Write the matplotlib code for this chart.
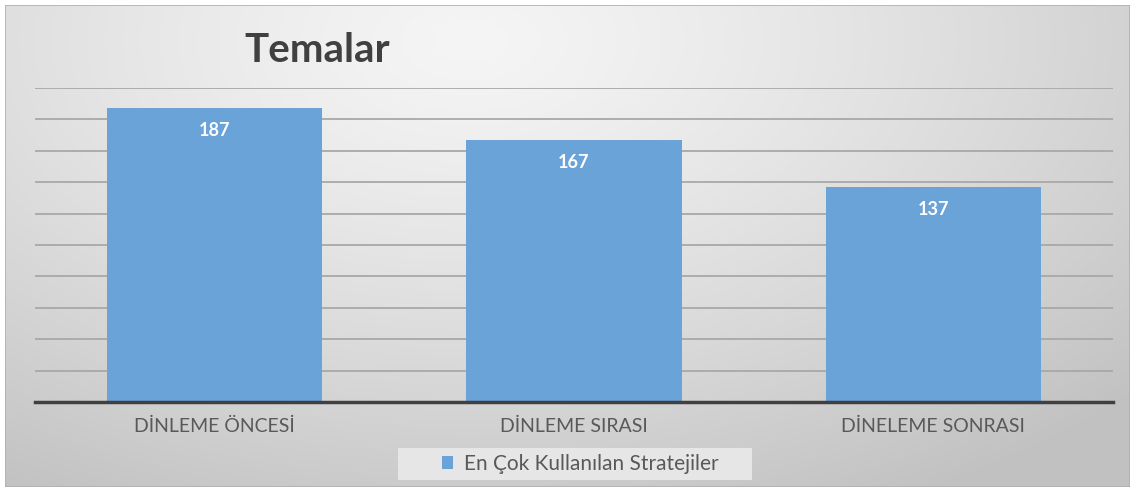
#!/usr/bin/env python3
"""Temalar - bar chart of the most used strategies per listening phase."""

import matplotlib
matplotlib.use("Agg")
import matplotlib.pyplot as plt
import numpy as np
from matplotlib.patches import Rectangle

# ---------------------------------------------------------------------------
# Data
# ---------------------------------------------------------------------------

categories = ["DİNLEME ÖNCESİ", "DİNLEME SIRASI", "DİNELEME SONRASI"]
values = [187, 167, 137]
series_name = "En Çok Kullanılan Stratejiler"
title = "Temalar"

BAR_COLOR = "#6aa3d8"
TEXT_COLOR = "#595959"

plt.rcParams["font.family"] = ["Lato", "DejaVu Sans"]

fig = plt.figure(figsize=(11.35, 4.91), dpi=100)
fig.patch.set_facecolor("white")

# background panel with a soft radial gradient
bg = fig.add_axes([0, 0, 1, 1], zorder=0)
W, H = 1135, 491
yy, xx = np.mgrid[0:H, 0:W]
d = np.sqrt(((xx - 470) / 900.0) ** 2 + ((yy - 40) / 520.0) ** 2)
shade = 0.96 - 0.20 * np.clip(d, 0, 1) ** 1.3
img = np.dstack([shade, shade, shade])
bg.imshow(img, extent=(0, W, H, 0), aspect="auto", interpolation="bilinear")
bg.add_patch(Rectangle((5, 5), 1125, 482, fill=False, edgecolor="#b0b0b0", lw=1.2))
# white outside the panel
bg.add_patch(Rectangle((0, 0), W, 5, color="white", lw=0))
bg.add_patch(Rectangle((0, 0), 5, H, color="white", lw=0))
bg.add_patch(Rectangle((1130, 0), 5, H, color="white", lw=0))
bg.add_patch(Rectangle((0, 487), W, 4, color="white", lw=0))
# legend box (wider than matplotlib's own frame)
bg.add_patch(Rectangle((398, 448), 354, 32, color="#e6e6e6", lw=0))
bg.set_xlim(0, W)
bg.set_ylim(H, 0)
bg.axis("off")

# main axes
ax = fig.add_axes([35 / W, 1 - 402 / H, (1113 - 35) / W, (402 - 88) / H], zorder=1)
ax.patch.set_alpha(0)

x = np.arange(len(categories))
bars = ax.bar(x, values, width=0.6, color=BAR_COLOR, zorder=3, label=series_name)

ax.set_xlim(-0.5, len(categories) - 0.5)
ax.set_ylim(0, 200)
ax.set_yticks(np.arange(0, 201, 20))
ax.yaxis.grid(True, color="#a8a8a8", lw=1.3, zorder=1)
ax.tick_params(axis="y", left=False, labelleft=False)
ax.tick_params(axis="x", bottom=False, labelsize=14, labelcolor=TEXT_COLOR, pad=8)
ax.set_xticks(x)
ax.set_xticklabels(categories)

for side in ("top", "right", "left"):
    ax.spines[side].set_visible(False)
ax.spines["bottom"].set_color("#404040")
ax.spines["bottom"].set_linewidth(2.5)
ax.spines["bottom"].set_zorder(4)

for b, v in zip(bars, values):
    ax.annotate(str(v), (b.get_x() + b.get_width() / 2, v),
                xytext=(0, -16), textcoords="offset points",
                ha="center", va="center", color="white",
                fontsize=13, fontweight="bold", zorder=5)

fig.text(317 / W, 1 - 50 / H, title, ha="center", va="center",
         fontsize=29, fontweight="bold", color="#404040")

leg = ax.legend(loc="center", bbox_to_anchor=(580 / W, 1 - 464 / H),
                bbox_transform=fig.transFigure, frameon=False,
                fontsize=15, handlelength=0.55, handleheight=0.55,
                handletextpad=0.5, borderpad=0.3, borderaxespad=0)
for t in leg.get_texts():
    t.set_color(TEXT_COLOR)

fig.savefig("out.png", dpi=100)
